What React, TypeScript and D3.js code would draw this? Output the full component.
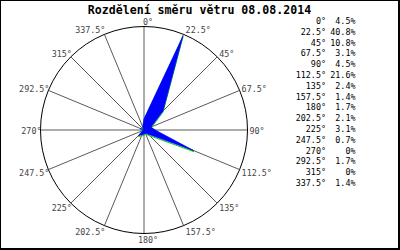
import React from "react";
import * as d3 from "d3";

const title = "Rozdělení směru větru 08.08.2014";
const directions = [0, 22.5, 45, 67.5, 90, 112.5, 135, 157.5, 180, 202.5, 225, 247.5, 270, 292.5, 315, 337.5];
const percents = [4.5, 40.8, 10.8, 3.1, 4.5, 21.6, 2.4, 1.4, 1.7, 2.1, 3.1, 0.7, 0, 1.7, 0, 1.4];

const W = 400;
const H = 250;
const cx = 144;
const cy = 130;
const R = 103.5;
const FONT = "'DejaVu Sans Mono', monospace";

export default function App() {
  const rScale = d3.scaleLinear().domain([0, 41.5]).range([0, R]);
  const angle = d3.scaleLinear().domain([0, 360]).range([0, 2 * Math.PI]);

  const pt = (deg: number, r: number): [number, number] => {
    const a = angle(deg);
    return [cx + r * Math.sin(a), cy - r * Math.cos(a)];
  };

  const radial = d3
    .lineRadial<number>()
    .angle((_, i) => angle(directions[i]))
    .radius((d) => rScale(d))
    .curve(d3.curveLinearClosed);
  const polyPath = radial(percents) || "";

  const fmt = (v: number) => `${v}%`;

  return (
    <svg
      width={W}
      height={H}
      style={{ position: "absolute", left: 0, top: 0, background: "#fff" }}
    >
      <rect x={0} y={0} width={W} height={H} fill="#fff" />
      <text
        x={199.5}
        y={14}
        textAnchor="middle"
        fontFamily={FONT}
        fontWeight="bold"
        fontSize={11.6}
        fill="#000"
      >
        {title}
      </text>

      {directions.map((d) => {
        const [x, y] = pt(d, R);
        return (
          <line
            key={"s" + d}
            x1={cx}
            y1={cy}
            x2={x}
            y2={y}
            stroke="#5a5a5a"
            strokeWidth={1}
          />
        );
      })}
      <circle cx={cx} cy={cy} r={R} fill="none" stroke="#000" strokeWidth={1} />

      <g transform={`translate(${cx},${cy + 1})`}>
        <path d={polyPath} fill="none" stroke="#00dd00" strokeWidth={1} />
      </g>
      <g transform={`translate(${cx},${cy})`}>
        <path d={polyPath} fill="#0000ff" stroke="#0000ff" strokeWidth={0.6} />
      </g>

      {directions.map((d) => {
        const [px, py] = pt(d, R);
        const a = angle(d);
        const s = Math.sin(a);
        const y = py - 5.5 * Math.cos(a) + 1;
        let anchor: "start" | "end" | "middle" = "middle";
        let x = px + 4;
        if (s > 0.01) {
          anchor = "start";
          x = px + 2;
        } else if (s < -0.01) {
          anchor = "end";
          x = px + 1;
        }
        return (
          <text
            key={"l" + d}
            x={x}
            y={y}
            textAnchor={anchor}
            dominantBaseline="central"
            fontFamily={FONT}
            fontSize={8.4}
            fill="#444"
          >
            {`${d}°`}
          </text>
        );
      })}

      {directions.map((d, i) => {
        const y = 21 + i * 10.8;
        return (
          <g key={"g" + d}>
            <text
              x={326}
              y={y}
              textAnchor="end"
              dominantBaseline="central"
              fontFamily={FONT}
              fontSize={8.4}
              fill="#000"
            >
              {`${d}°`}
            </text>
            <text
              x={355.5}
              y={y}
              textAnchor="end"
              dominantBaseline="central"
              fontFamily={FONT}
              fontSize={8.4}
              fill="#000"
            >
              {fmt(percents[i])}
            </text>
          </g>
        );
      })}

      <rect x={0.5} y={0.5} width={398} height={248} fill="none" stroke="#000" strokeWidth={1} />
      <line x1={399.5} y1={0} x2={399.5} y2={H} stroke="#000" strokeWidth={1} />
      <line x1={0} y1={249.5} x2={W} y2={249.5} stroke="#000" strokeWidth={1} />
    </svg>
  );
}
